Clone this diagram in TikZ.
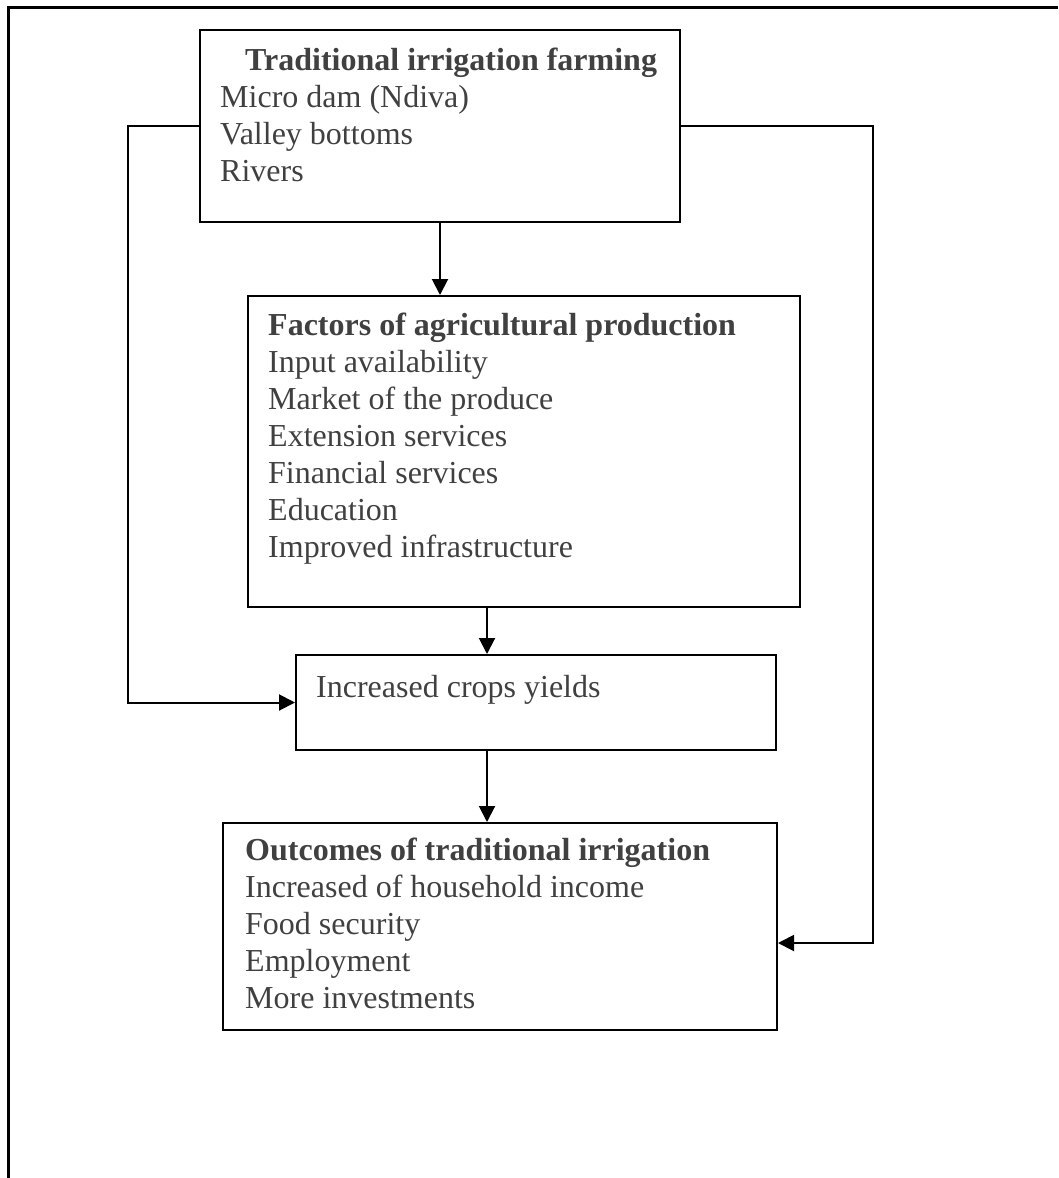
\documentclass[tikz,border=0pt]{standalone}
\usepackage{fontspec}
\setmainfont{Liberation Serif}
\usetikzlibrary{arrows.meta}
\definecolor{txt}{HTML}{404040}
\tikzset{
  box/.style={draw=black, line width=2pt, rectangle, inner sep=0pt},
  txtblock/.style={anchor=base west, inner sep=0pt, align=left, text=txt,
    font=\fontsize{32}{37}\selectfont},
  conn/.style={draw=black, line width=2pt},
  arr/.style={conn, -{Triangle[length=16pt,width=16pt]}}
}
\begin{document}
\begin{tikzpicture}[x=1pt,y=-1pt]
\useasboundingbox (0,0) rectangle (1058,1178);
% outer frame (top and left only)
\draw[line width=3pt] (1058,7) -- (8,7) -- (8,1178);
% boxes
\node[box, minimum width=480pt, minimum height=192pt] (b1) at (440,126) {};
\node[box, minimum width=552pt, minimum height=311pt] (b2) at (524,451.5) {};
\node[box, minimum width=480pt, minimum height=95pt] (b3) at (536,702.5) {};
\node[box, minimum width=554pt, minimum height=207pt] (b4) at (500,926.5) {};
% texts (base anchor = baseline of the last line)
\node[txtblock] (t1h) at (245,70) {\textbf{Traditional irrigation farming}};
\node[txtblock] (t1) at (220,181) {Micro dam (Ndiva)\\Valley bottoms\\Rivers};
\node[txtblock] (t2h) at (268,335) {\textbf{Factors of agricultural production}};
\node[txtblock] (t2) at (268,557) {Input availability\\Market of the produce\\Extension services\\Financial services\\Education\\Improved infrastructure};
\node[txtblock] (t3) at (316,697) {Increased crops yields};
\node[txtblock] (t4h) at (245,860) {\textbf{Outcomes of traditional irrigation}};
\node[txtblock] (t4) at (245,1008) {Increased of household income\\Food security\\Employment\\More investments};
% connector helpers
\coordinate (ax) at (487,0);
\coordinate (lx) at (128,0);
\coordinate (rx) at (873,0);
\coordinate (ry) at (0,943);
% connectors
\draw[arr] (b1.south) -- (b2.north -| b1.south);
\draw[arr] (b2.south -| ax) -- (b3.north -| ax);
\draw[arr] (b3.south -| ax) -- (b4.north -| ax);
\draw[arr] (b1.west) -- (b1.west -| lx) -- (b3.west -| lx) -- (b3.west);
\draw[arr] (b1.east) -- (b1.east -| rx) -- (rx |- ry) -- (b4.east |- ry);
\end{tikzpicture}
\end{document}
